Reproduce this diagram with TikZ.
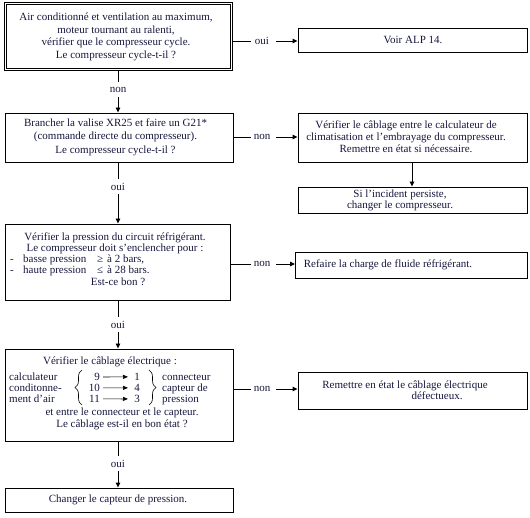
\documentclass[tikz,border=0pt]{standalone}
\usepackage{fontspec}
\setmainfont{Liberation Serif}
\usetikzlibrary{arrows.meta,decorations.pathreplacing}
\definecolor{txt}{RGB}{22,22,62}
\begin{document}
\begin{tikzpicture}[x=1pt,y=-1pt,
  every node/.style={text=txt},
  box/.style={draw=black, line width=0.9pt, inner sep=0pt, rectangle},
  tx/.style={align=center, inner sep=0pt, font=\fontsize{11}{#1}\selectfont},
  tx/.default=12,
  lbl/.style={inner sep=0pt, font=\fontsize{11}{12}\selectfont},
  ln/.style={line width=0.9pt},
  arr/.style={line width=0.9pt, -{Triangle[length=5pt,width=4.5pt]}},
  sarr/.style={line width=0.7pt, -{Triangle[length=5pt,width=4pt]}},
  brc/.style={line width=0.6pt, decorate, decoration={brace, amplitude=7pt}},
]
\useasboundingbox (0,0) rectangle (530,518);

% ---------- boxes ----------
\node[box, double, double distance=1.6pt, line width=0.6pt,
      minimum width=226.2pt, minimum height=66.2pt] (b1) at (118.5,36.5) {};
\node[box, minimum width=229pt, minimum height=24pt] (r1) at (412.5,40) {};
\node[box, minimum width=228pt, minimum height=49pt] (b2) at (119,137.5) {};
\node[box, minimum width=229pt, minimum height=49pt] (r2) at (412.5,137.5) {};
\node[box, minimum width=229pt, minimum height=26pt] (r3) at (412.5,200) {};
\node[box, minimum width=225pt, minimum height=76pt] (b5) at (117.5,262) {};
\node[box, minimum width=232pt, minimum height=26pt] (r5) at (411.5,265) {};
\node[box, minimum width=228pt, minimum height=92pt] (b7) at (119,395) {};
\node[box, minimum width=229pt, minimum height=37pt] (r7) at (412.5,390.5) {};
\node[box, minimum width=228pt, minimum height=24pt] (b9) at (119,500) {};

% ---------- texts ----------
\node[tx=12.5] (t1) at (116,37) {Air conditionné et ventilation au maximum,\\
  moteur tournant au ralenti,\\ vérifier que le compresseur cycle.\\ Le compresseur cycle-t-il ?};
\node[tx] (tr1) at (413,40) {Voir ALP 14.};
\node[tx=13.5] (t2) at (115.5,137) {Brancher la valise XR25 et faire un G21*\\
  (commande directe du compresseur).\\ Le compresseur cycle-t-il ?};
\node[tx=12] (tr2) at (406,137) {Vérifier le câblage entre le calculateur de\\
  climatisation et l’embrayage du compresseur.\\ Remettre en état si nécessaire.};
\node[tx=11] (tr3) at (400,200) {Si l’incident persiste,\\ changer le compresseur.};

\node[tx=11] (t5a) at (115,243) {Vérifier la pression du circuit réfrigérant.\\
  Le compresseur doit s’enclencher pour :};
\node[tx, anchor=base west] (d1) at (10,262.5) {-};
\node[tx, anchor=base west] (p1) at (23,262.5) {basse pression};
\node[tx, anchor=base west] (g1) at (97,262.5) {≥};
\node[tx, anchor=base west] (v1) at (107,262.5) {à 2 bars,};
\node[tx, anchor=base west] (d2) at (10,273.5) {-};
\node[tx, anchor=base west] (p2) at (23,273.5) {haute pression};
\node[tx, anchor=base west] (g2) at (97,273.5) {≤};
\node[tx, anchor=base west] (v2) at (107,273.5) {à 28 bars.};
\node[tx] (t5b) at (118,282) {Est-ce bon ?};
\node[tx] (tr5) at (388,265) {Refaire la charge de fluide réfrigérant.};

\node[tx] (t7a) at (110,362) {Vérifier le câblage électrique :};
\node[tx, anchor=base west] (c1) at (9,380.5) {calculateur};
\node[tx, anchor=base west] (c2) at (9,391.5) {conditonne-};
\node[tx, anchor=base west] (c3) at (9,402.5) {ment d’air};
\node[tx, anchor=base east] (n1) at (100,380.5) {9};
\node[tx, anchor=base east] (n2) at (100,391.5) {10};
\node[tx, anchor=base east] (n3) at (100,402.5) {11};
\node[tx, anchor=base] (m1) at (137,380.5) {1};
\node[tx, anchor=base] (m2) at (137,391.5) {4};
\node[tx, anchor=base] (m3) at (137,402.5) {3};
\node[tx, anchor=base west] (k1) at (162,380.5) {connecteur};
\node[tx, anchor=base west] (k2) at (162,391.5) {capteur de};
\node[tx, anchor=base west] (k3) at (162,402.5) {pression};
\node[tx=11.5] (t7b) at (122,419) {et entre le connecteur et le capteur.\\
  Le câblage est-il en bon état ?};
\node[tx=11] (tr7) at (405,390) {Remettre en état le câblage électrique\\
  \hspace*{64pt}défectueux.};
\node[tx] (t9) at (118,500) {Changer le capteur de pression.};

\coordinate (bl1) at (82,405);
\coordinate (bl2) at (82,370);
\coordinate (br1) at (149,370);
\coordinate (br2) at (149,405);
\draw[brc] (bl1) -- (bl2);
\draw[brc] (br1) -- (br2);
\draw[sarr] ([xshift=3pt]n1.east |- n1.center) -- ([xshift=-9pt]m1.center);
\draw[sarr] ([xshift=3pt]n2.east |- n2.center) -- ([xshift=-9pt]m2.center);
\draw[sarr] ([xshift=3pt]n3.east |- n3.center) -- ([xshift=-9pt]m3.center);

% ---------- connectors ----------
% horizontal
\node[lbl] (h1) at (262,41) {oui};
\draw[ln] (h1 -| b1.east) -- ([xshift=-11pt]h1.center);
\draw[arr] ([xshift=14pt]h1.center) -- (h1 -| r1.west);

\node[lbl] (h2) at (262,137) {non};
\draw[ln] (h2 -| b2.east) -- ([xshift=-11pt]h2.center);
\draw[arr] ([xshift=14pt]h2.center) -- (h2 -| r2.west);

\node[lbl] (h5) at (262,264) {non};
\draw[ln] (h5 -| b5.east) -- ([xshift=-11pt]h5.center);
\draw[arr] ([xshift=14pt]h5.center) -- (h5 -| r5.west);

\node[lbl] (h7) at (262,389) {non};
\draw[ln] (h7 -| b7.east) -- ([xshift=-11pt]h7.center);
\draw[arr] ([xshift=14pt]h7.center) -- (h7 -| r7.west);

\draw[arr] (r2.south -| 412,0) -- (r3.north -| 412,0);

% vertical
\node[lbl] (v1l) at (118,90) {non};
\draw[ln] (b1.south -| v1l) -- ([yshift=8pt]v1l.center);
\draw[arr] ([yshift=-7pt]v1l.center) -- (b2.north -| v1l);

\node[lbl] (v2l) at (118,187) {oui};
\draw[ln] (b2.south -| v2l) -- ([yshift=8pt]v2l.center);
\draw[arr] ([yshift=-7pt]v2l.center) -- (b5.north -| v2l);

\node[lbl] (v5l) at (118,325) {oui};
\draw[ln] (b5.south -| v5l) -- ([yshift=8pt]v5l.center);
\draw[arr] ([yshift=-7pt]v5l.center) -- (b7.north -| v5l);

\node[lbl] (v7l) at (118,464) {oui};
\draw[ln] (b7.south -| v7l) -- ([yshift=8pt]v7l.center);
\draw[arr] ([yshift=-7pt]v7l.center) -- (b9.north -| v7l);
\end{tikzpicture}
\end{document}
